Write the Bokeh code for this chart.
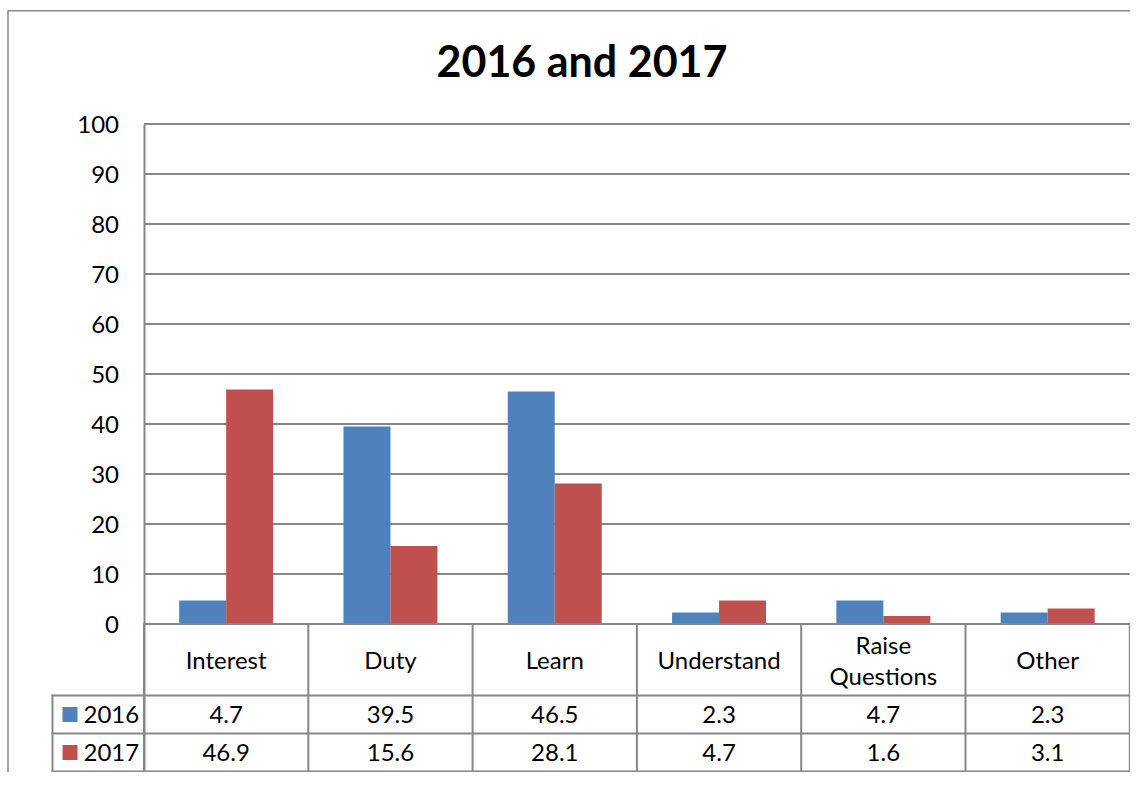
from bokeh.plotting import figure
from bokeh.models import Range1d, FixedTicker, Label
from bokeh.embed import file_html
from bokeh.resources import INLINE
from bokeh.core.properties import value

# ---------------- data ----------------
CATEGORIES = ["Interest", "Duty", "Learn", "Understand", "Raise\nQuestions", "Other"]
SERIES = ["2016", "2017"]
VALUES_2016 = [4.7, 39.5, 46.5, 2.3, 4.7, 2.3]
VALUES_2017 = [46.9, 15.6, 28.1, 4.7, 1.6, 3.1]
Y_TICKS = [0, 10, 20, 30, 40, 50, 60, 70, 80, 90, 100]
TITLE = "2016 and 2017"

# ---------------- style / layout ----------------
COLORS = ["#4F81BD", "#C0504D"]
GRID = "#878787"
FONT = "Lato"
FS = "24px"

W, H = 1130, 772
X0_PX = 143.5      # figure pixel where the category axis starts
CAT_PX = 164.3     # width of one category in pixels
Y0_PX = 623.5      # figure pixel of value 0
UNIT_PX = 5.0      # pixels per value unit


def dx(px):
    return (px - X0_PX) / CAT_PX


def dy(py):
    return (Y0_PX - py) / UNIT_PX


n = len(CATEGORIES)
xs = [i + 0.5 for i in range(n)]
BAR_W = 0.286

ROW_Y = [dy(695), dy(733), dy(771)]      # table row boundaries
LEG_X = dx(52)                           # left edge of legend column
HEAD_C = (0 + ROW_Y[0]) / 2
ROW_C = [(ROW_Y[0] + ROW_Y[1]) / 2, (ROW_Y[1] + ROW_Y[2]) / 2]

p = figure(width=W, height=H,
           x_range=Range1d(dx(0), dx(W)), y_range=Range1d(dy(H), dy(0)),
           output_backend="svg", toolbar_location=None, min_border=0,
           outline_line_color=None, background_fill_color="white",
           border_fill_color="white")

p.xaxis.visible = False
p.grid.visible = False

yax = p.yaxis[0]
yax.fixed_location = 0
yax.ticker = FixedTicker(ticks=Y_TICKS)
yax.bounds = (ROW_Y[-1], max(Y_TICKS))
yax.axis_line_color = GRID
yax.axis_line_width = 2
yax.major_tick_line_color = None
yax.minor_tick_line_color = None
yax.major_tick_out = 0
yax.major_tick_in = 0
yax.major_label_standoff = 25
yax.major_label_text_font = FONT
yax.major_label_text_font_size = FS
yax.major_label_text_color = "black"

# outer chart border (left and top visible)
p.line(x=[dx(7.5), dx(7.5), dx(W)], y=[dy(H), dy(10.3), dy(10.3)],
       line_color=GRID, line_width=1.5)

# gridlines
p.segment(x0=0, y0=Y_TICKS[1:], x1=n, y1=Y_TICKS[1:],
          line_color=GRID, line_width=2)

# bars
p.vbar(x=[x - BAR_W / 2 for x in xs], top=VALUES_2016, bottom=0, width=BAR_W,
       fill_color=COLORS[0], line_color=None)
p.vbar(x=[x + BAR_W / 2 for x in xs], top=VALUES_2017, bottom=0, width=BAR_W,
       fill_color=COLORS[1], line_color=None)

# data table lines
p.segment(x0=[0, LEG_X, LEG_X, LEG_X], y0=[0] + ROW_Y,
          x1=[n, n, n, n], y1=[0] + ROW_Y,
          line_color=GRID, line_width=2, line_cap="square")
p.segment(x0=list(range(n + 1)) + [LEG_X], y0=[0] * (n + 1) + [ROW_Y[0]],
          x1=list(range(n + 1)) + [LEG_X], y1=[ROW_Y[-1]] * (n + 2),
          line_color=GRID, line_width=2, line_cap="square")

# table texts
p.text(x=xs, y=HEAD_C, text=CATEGORIES, text_align="center",
       text_baseline="middle", text_font=value(FONT), text_font_size=FS,
       text_color="black", text_line_height=1.08)
p.text(x=xs, y=ROW_C[0], text=[f"{v:.1f}" for v in VALUES_2016],
       text_align="center", text_baseline="middle", text_font=value(FONT),
       text_font_size=FS, text_color="black")
p.text(x=xs, y=ROW_C[1], text=[f"{v:.1f}" for v in VALUES_2017],
       text_align="center", text_baseline="middle", text_font=value(FONT),
       text_font_size=FS, text_color="black")

# legend keys in table
p.scatter(x=dx(69.5), y=ROW_C, marker="square", size=15,
          fill_color=COLORS, line_color=None)
p.text(x=dx(83), y=ROW_C, text=SERIES, text_align="left",
       text_baseline="middle", text_font=value(FONT), text_font_size=FS,
       text_color="black")

# title
p.add_layout(Label(x=dx(581.5), y=dy(60), text=TITLE, text_font=FONT,
                   text_font_style="bold", text_font_size="43px",
                   text_align="center", text_baseline="middle",
                   text_color="black"))

open("out.html", "w").write(file_html(p, INLINE))
